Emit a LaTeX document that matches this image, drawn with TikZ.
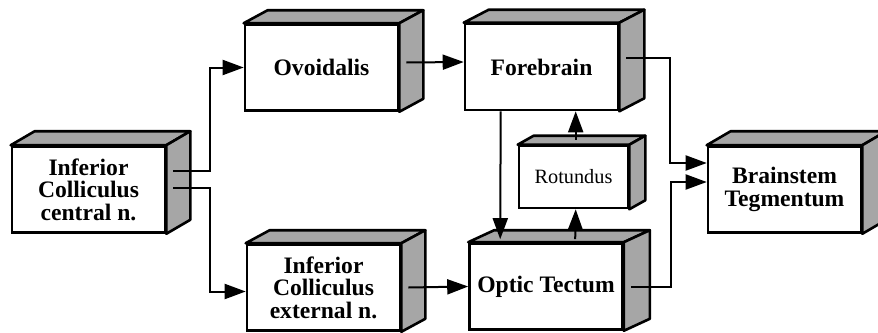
\documentclass[tikz,border=0pt]{standalone}
\usepackage{fontspec}
\setmainfont{Liberation Serif}
\usepackage{tikz}
\usetikzlibrary{calc,arrows.meta}

\tikzset{
  box/.style={draw,line width=2.6pt,fill=white,minimum width=153pt,minimum height=86pt,
    align=center,inner sep=0pt,font=\fontsize{23.6}{22.5}\selectfont\bfseries},
  smallbox/.style={box,minimum width=109pt,minimum height=62pt,font=\fontsize{20.3}{20}\selectfont},
  face/.style={draw,line width=2.6pt,fill=black!35,line join=round},
  conn/.style={line width=2pt,-{Triangle[length=21pt,width=15pt]}}
}

\begin{document}
\begin{tikzpicture}[x=1pt,y=-1pt]
\useasboundingbox (0,0) rectangle (878,332);
\node[box](icc)at(88.5,189.5){Inferior\\Colliculus\\central n.};
\node[box](ovo)at(321.5,67.5){Ovoidalis};
\node[box](fore)at(541.5,67){Forebrain};
\node[box](ice)at(323.5,287.5){Inferior\\Colliculus\\external n.};
\node[box](tect)at(546,286.5){Optic Tectum};
\node[box](brain)at(784.5,189.5){Brainstem\\Tegmentum};
\node[smallbox](rot)at(573.5,177){Rotundus};
% depth faces
\foreach \n/\dx/\dy in {icc/24/14,ovo/24/13,fore/25/13,ice/24/13,tect/26/12,brain/24/14,rot/16/9}{
  \draw[face](\n.north west)--++(\dx,-\dy)--($(\n.north east)+(\dx,-\dy)$)--(\n.north east)--cycle;
  \draw[face](\n.north east)--++(\dx,-\dy)--($(\n.south east)+(\dx,-\dy)$)--(\n.south east)--cycle;
}
% connections
\draw[conn]($(icc.east)+(7,-19)$)--++(37,0)|-(ovo.west);
\draw[conn]($(icc.east)+(7,-2)$)--++(37,0)|-($(ice.west)+(0,4)$);
\draw[conn]($(ovo.east)+(7,-5)$)--($(fore.west)+(0,-5)$);
\draw[conn]($(ice.east)+(7,0)$)--(tect.west);
\draw[conn]($(fore.south west)+(37,0)$)--($(tect.north west)+(32,-3)$);
\draw[conn]($(tect.north west)+(107,-3)$)--($(rot.south west)+(58,0)$);
\draw[conn]($(rot.north west)+(58,-5)$)--($(fore.south west)+(112,0)$);
\draw[conn]($(fore.east)+(7,-9)$)--++(44,0)|-($(brain.west)+(0,-26.5)$);
\draw[conn]($(tect.east)+(7,0.5)$)--++(40,0)|-($(brain.west)+(0,-7.5)$);
\end{tikzpicture}
\end{document}
